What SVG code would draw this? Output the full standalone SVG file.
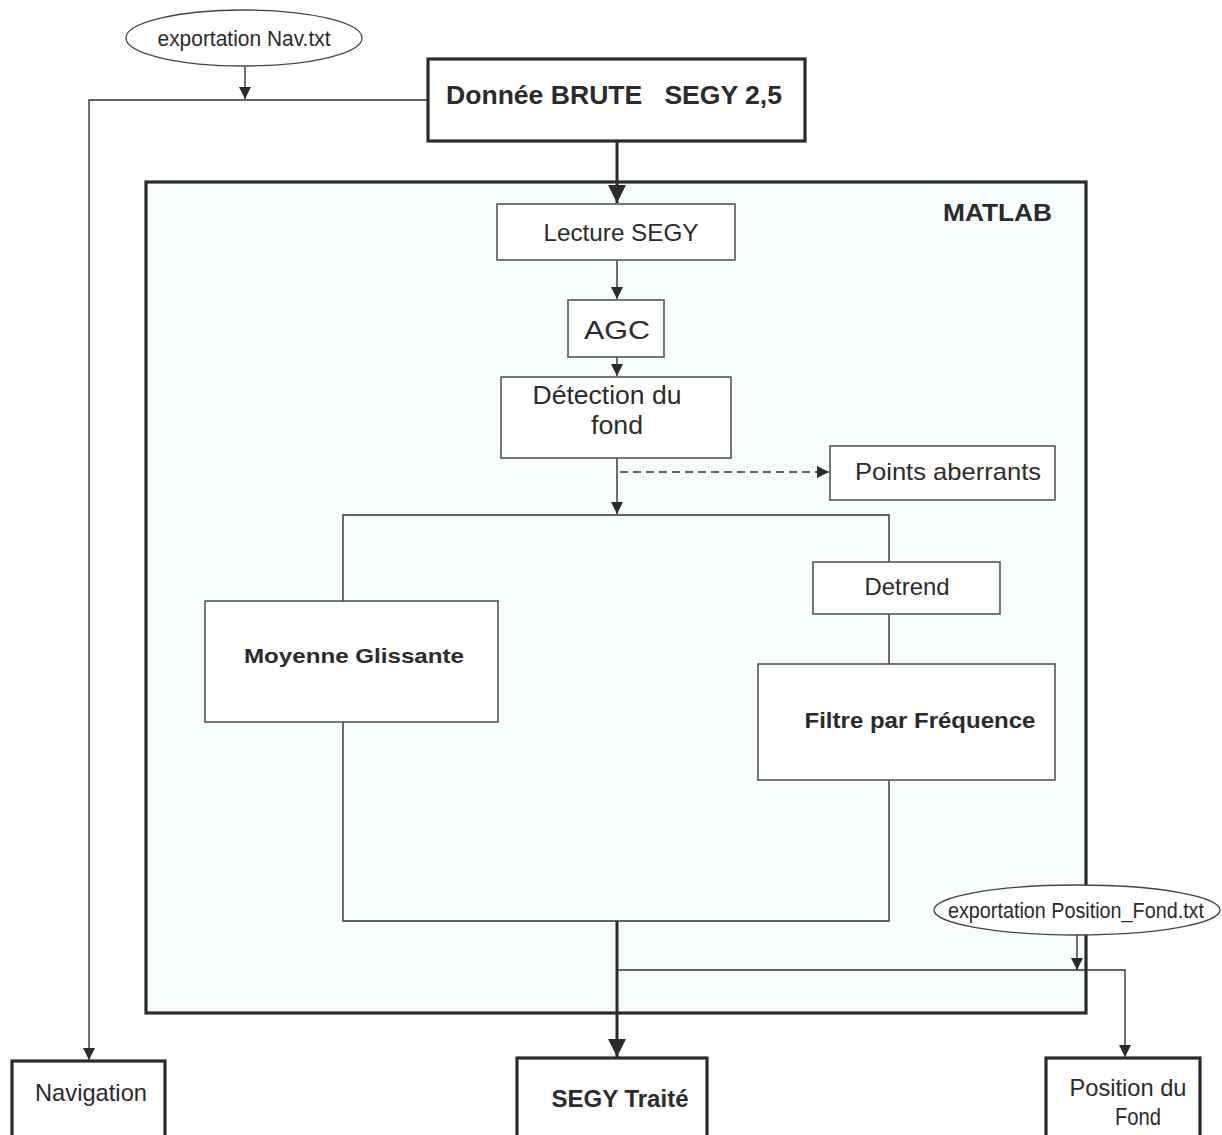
<svg xmlns="http://www.w3.org/2000/svg" width="1222" height="1135" viewBox="0 0 1222 1135">
<style>
text{font-family:"Liberation Sans",Arial,sans-serif;fill:#2b2b2b}
.b{font-weight:bold}
.thin{fill:#ffffff;stroke:#555;stroke-width:1.6}
.thick{fill:#ffffff;stroke:#2b2b2b;stroke-width:3.2}
.ln{fill:none;stroke:#333;stroke-width:1.4}
.lnb{fill:none;stroke:#2b2b2b;stroke-width:3}
</style>
<defs>
<marker id="ah" viewBox="0 0 10 10" refX="10" refY="5" markerWidth="12" markerHeight="12" markerUnits="userSpaceOnUse" orient="auto"><path d="M0,0L10,5L0,10z" fill="#2b2b2b"/></marker>
<marker id="ahb" viewBox="0 0 10 10" refX="10" refY="5" markerWidth="18" markerHeight="18" markerUnits="userSpaceOnUse" orient="auto"><path d="M0,0L10,5L0,10z" fill="#2b2b2b"/></marker>
</defs>
<rect width="1222" height="1135" fill="#ffffff"/>
<g id="matlab">
<rect x="146" y="182" width="940" height="831" fill="#f7fdfd" stroke="#2b2b2b" stroke-width="3.2"/>
<text x="943" y="221" class="b" font-size="23" textLength="109" lengthAdjust="spacingAndGlyphs">MATLAB</text>
</g>
<g id="connectors">
<path class="ln" d="M245,67V99" marker-end="url(#ah)"/>
<path class="ln" d="M428,100H89V1060" marker-end="url(#ah)"/>
<path class="lnb" d="M617,141V203" marker-end="url(#ahb)"/>
<path class="ln" d="M617,260V299" marker-end="url(#ah)"/>
<path class="ln" d="M617,357V376" marker-end="url(#ah)"/>
<path class="ln" d="M617,458V514" marker-end="url(#ah)"/>
<path class="ln" d="M620,472H829" stroke-dasharray="8,5" marker-end="url(#ah)"/>
<path class="ln" d="M343,601V515H889V562"/>
<path class="ln" d="M889,614V664"/>
<path class="ln" d="M343,722V921H889V780"/>
<path class="lnb" d="M617,921V1057" marker-end="url(#ahb)"/>
<path class="ln" d="M617,970H1125V1057" marker-end="url(#ah)"/>
<path class="ln" d="M1077,935V970" marker-end="url(#ah)"/>
</g>
<g id="nav-export">
<ellipse cx="244" cy="38" rx="118" ry="28" fill="#ffffff" stroke="#444" stroke-width="1.3"/>
<text x="244" y="46" font-size="22" text-anchor="middle" textLength="173" lengthAdjust="spacingAndGlyphs">exportation Nav.txt</text>
</g>
<g id="donnee">
<rect x="428" y="59" width="377" height="82" class="thick"/>
<text x="446" y="104" class="b" font-size="26" textLength="336" lengthAdjust="spacingAndGlyphs" xml:space="preserve">Donnée BRUTE   SEGY 2,5</text>
</g>
<g id="lecture">
<rect x="497" y="204" width="238" height="56" class="thin"/>
<text x="621" y="241" font-size="24" text-anchor="middle" textLength="155" lengthAdjust="spacingAndGlyphs">Lecture SEGY</text>
</g>
<g id="agc">
<rect x="568" y="300" width="96" height="57" class="thin"/>
<text x="617" y="339" font-size="26" text-anchor="middle" textLength="66" lengthAdjust="spacingAndGlyphs">AGC</text>
</g>
<g id="detection">
<rect x="501" y="377" width="230" height="81" class="thin"/>
<text x="607" y="404" font-size="26" text-anchor="middle" textLength="149" lengthAdjust="spacingAndGlyphs">Détection du</text>
<text x="617" y="434" font-size="26" text-anchor="middle" textLength="52" lengthAdjust="spacingAndGlyphs">fond</text>
</g>
<g id="points">
<rect x="830" y="446" width="225" height="54" class="thin"/>
<text x="948" y="480" font-size="24" text-anchor="middle" textLength="186" lengthAdjust="spacingAndGlyphs">Points aberrants</text>
</g>
<g id="moyenne">
<rect x="205" y="601" width="293" height="121" class="thin"/>
<text x="354" y="663" class="b" font-size="21" text-anchor="middle" textLength="220" lengthAdjust="spacingAndGlyphs">Moyenne Glissante</text>
</g>
<g id="detrend">
<rect x="813" y="562" width="187" height="52" class="thin"/>
<text x="907" y="595" font-size="24" text-anchor="middle" textLength="85" lengthAdjust="spacingAndGlyphs">Detrend</text>
</g>
<g id="filtre">
<rect x="758" y="664" width="297" height="116" class="thin"/>
<text x="920" y="728" class="b" font-size="22" text-anchor="middle" textLength="231" lengthAdjust="spacingAndGlyphs">Filtre par Fréquence</text>
</g>
<g id="fond-export">
<ellipse cx="1077" cy="910" rx="143" ry="25" fill="#ffffff" stroke="#444" stroke-width="1.3"/>
<text x="1076" y="918" font-size="22" text-anchor="middle" textLength="256" lengthAdjust="spacingAndGlyphs">exportation Position_Fond.txt</text>
</g>
<g id="navigation">
<rect x="12" y="1061" width="153" height="90" class="thick"/>
<text x="91" y="1101" font-size="24" text-anchor="middle" textLength="112" lengthAdjust="spacingAndGlyphs">Navigation</text>
</g>
<g id="segy-traite">
<rect x="517" y="1058" width="190" height="90" class="thick"/>
<text x="620" y="1107" class="b" font-size="23" text-anchor="middle" textLength="137" lengthAdjust="spacingAndGlyphs">SEGY Traité</text>
</g>
<g id="position">
<rect x="1046" y="1058" width="154" height="90" class="thick"/>
<text x="1128" y="1096" font-size="24" text-anchor="middle" textLength="117" lengthAdjust="spacingAndGlyphs">Position du</text>
<text x="1138" y="1125" font-size="24" text-anchor="middle" textLength="46" lengthAdjust="spacingAndGlyphs">Fond</text>
</g>
</svg>
